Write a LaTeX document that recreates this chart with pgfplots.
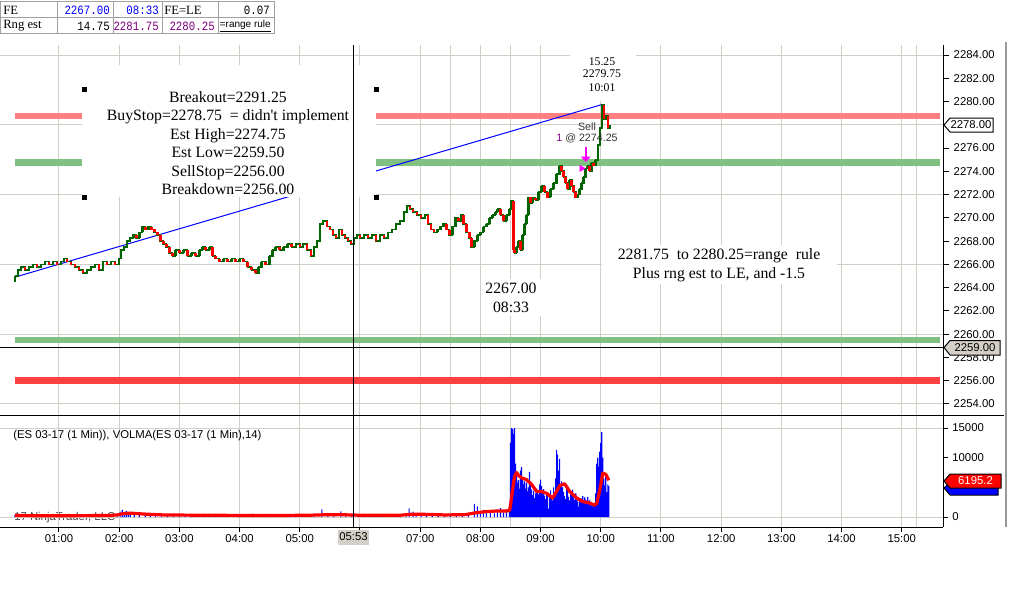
\documentclass[border=0pt]{standalone}
\usepackage{fontspec}
\setmainfont{Liberation Sans}
\newfontfamily\tnr{Liberation Serif}
\newfontfamily\mono[FakeStretch=0.85]{Liberation Mono}
\usepackage{pgfplots}
\usepackage{pgfplotstable}
\pgfplotsset{compat=1.18}
\usetikzlibrary{arrows.meta}

\definecolor{cgreen}{RGB}{0,100,0}
\definecolor{cred}{RGB}{255,0,0}
\definecolor{gridc}{RGB}{210,206,200}
\definecolor{bandpink}{RGB}{255,128,128}
\definecolor{bandred}{RGB}{255,64,64}
\definecolor{bandgreen}{RGB}{128,192,128}
\definecolor{taggray}{RGB}{212,208,200}
\definecolor{purp}{RGB}{128,0,128}
\definecolor{tblue}{RGB}{0,0,255}
\definecolor{magen}{RGB}{255,0,255}
\definecolor{tline}{RGB}{160,160,160}
\newcommand{\lbl}{\fontsize{8.5}{10}\selectfont}

% 1-minute ES price path (time in minutes after midnight, open, close)
\pgfplotstableread{
t o c
16 2264.50 2265.00
19 2265.00 2265.50
22 2265.50 2265.75
26 2265.75 2265.50
30 2265.50 2265.75
34 2265.75 2266.00
38 2266.00 2265.75
42 2265.75 2266.00
46 2266.00 2266.25
50 2266.25 2266.00
54 2266.00 2266.25
58 2266.25 2266.00
62 2266.00 2266.25
65 2266.25 2266.50
68 2266.50 2266.25
72 2266.25 2266.00
76 2266.00 2265.75
80 2265.75 2265.50
84 2265.50 2265.25
88 2265.25 2265.50
92 2265.50 2265.75
96 2265.75 2266.00
100 2266.00 2265.50
104 2265.50 2266.25
108 2266.25 2266.00
112 2266.00 2266.25
116 2266.25 2266.00
120 2266.00 2266.50
122 2266.50 2267.25
125 2267.25 2267.50
128 2267.50 2268.00
131 2268.00 2268.25
134 2268.25 2268.50
137 2268.50 2268.25
140 2268.25 2268.75
143 2268.75 2269.25
146 2269.25 2269.00
149 2269.00 2269.25
152 2269.25 2269.00
155 2269.00 2268.75
158 2268.75 2268.50
161 2268.50 2268.00
164 2268.00 2267.75
167 2267.75 2267.50
170 2267.50 2267.00
173 2267.00 2266.75
176 2266.75 2267.25
180 2267.25 2267.00
184 2267.00 2267.25
188 2267.25 2266.75
192 2266.75 2267.00
196 2267.00 2266.75
200 2266.75 2267.25
203 2267.25 2267.50
206 2267.50 2267.25
210 2267.25 2267.50
213 2267.50 2266.75
216 2266.75 2266.50
220 2266.50 2266.25
224 2266.25 2266.50
228 2266.50 2266.25
232 2266.25 2266.50
236 2266.50 2266.25
240 2266.25 2266.50
244 2266.50 2266.25
248 2266.25 2265.75
252 2265.75 2265.50
256 2265.50 2265.25
259 2265.25 2265.75
262 2265.75 2266.25
266 2266.25 2266.00
270 2266.00 2266.75
273 2266.75 2267.25
276 2267.25 2267.50
280 2267.50 2267.25
284 2267.25 2267.50
288 2267.50 2267.75
292 2267.75 2267.50
296 2267.50 2267.75
300 2267.75 2267.50
303 2267.50 2267.75
307 2267.75 2267.25
311 2267.25 2266.75
314 2266.75 2267.50
317 2267.50 2268.00
320 2268.00 2269.50
323 2269.50 2269.75
327 2269.75 2269.25
330 2269.25 2269.00
333 2269.00 2268.50
336 2268.50 2268.25
339 2268.25 2269.00
342 2269.00 2268.50
345 2268.50 2268.25
348 2268.25 2268.00
351 2268.00 2267.75
354 2267.75 2268.25
357 2268.25 2268.50
360 2268.50 2268.25
364 2268.25 2268.50
368 2268.50 2268.25
372 2268.25 2268.50
376 2268.50 2268.00
380 2268.00 2268.50
384 2268.50 2268.25
388 2268.25 2268.75
392 2268.75 2269.00
396 2269.00 2269.50
400 2269.50 2269.75
404 2269.75 2270.50
407 2270.50 2271.00
410 2271.00 2270.75
413 2270.75 2270.50
417 2270.50 2270.25
421 2270.25 2270.00
425 2270.00 2270.25
428 2270.25 2269.50
431 2269.50 2269.00
434 2269.00 2268.75
437 2268.75 2269.00
440 2269.00 2269.25
443 2269.25 2269.50
446 2269.50 2269.00
449 2269.00 2268.50
452 2268.50 2269.25
455 2269.25 2270.00
458 2270.00 2269.75
461 2269.75 2270.25
463 2270.25 2269.50
466 2269.50 2268.75
469 2268.75 2268.25
471 2268.25 2267.50
474 2267.50 2268.00
477 2268.00 2268.50
480 2268.50 2268.75
483 2268.75 2269.25
486 2269.25 2269.50
489 2269.50 2270.00
492 2270.00 2270.25
495 2270.25 2270.50
497 2270.50 2270.75
500 2270.75 2270.25
503 2270.25 2269.75
506 2269.75 2270.25
509 2270.25 2270.75
511 2270.75 2271.50
513 2271.50 2267.25
514 2267.25 2267.00
516 2267.00 2267.50
518 2267.50 2268.00
520 2268.00 2267.25
522 2267.25 2268.50
524 2268.50 2269.50
526 2269.50 2270.25
528 2270.25 2271.75
530 2271.75 2271.25
532 2271.25 2271.75
535 2271.75 2271.50
538 2271.50 2272.25
541 2272.25 2272.75
544 2272.75 2272.25
547 2272.25 2271.75
550 2271.75 2272.50
553 2272.50 2273.00
556 2273.00 2273.75
559 2273.75 2274.50
561 2274.50 2274.00
563 2274.00 2273.50
565 2273.50 2273.00
567 2273.00 2272.50
569 2272.50 2273.25
571 2273.25 2272.75
573 2272.75 2272.25
575 2272.25 2271.75
577 2271.75 2272.00
579 2272.00 2272.50
581 2272.50 2273.00
583 2273.00 2273.50
585 2273.50 2274.25
587 2274.25 2274.50
589 2274.50 2274.00
591 2274.00 2274.75
593 2274.75 2274.50
595 2274.50 2275.00
597 2275.00 2276.25
599 2276.25 2277.75
601 2277.75 2279.75
603 2279.75 2278.50
605 2278.50 2278.75
607 2278.75 2277.75
609 2277.75 2278.00
}\price

% volume per bar
\pgfplotstableread{
t v
16 300
22 150
28 200
34 250
40 150
46 200
52 300
58 150
64 250
70 200
76 300
82 200
88 250
94 150
100 300
106 200
112 250
118 400
121 900
123 1200
125 700
127 1000
129 600
131 800
135 400
140 300
146 500
151 700
156 300
162 250
168 350
174 200
180 250
186 300
192 200
198 250
205 450
210 200
216 300
222 150
228 250
234 200
240 300
246 200
253 550
258 200
266 450
272 250
278 200
284 300
290 250
296 200
302 300
308 250
314 350
322 1300
328 300
334 400
341 950
346 300
352 200
358 250
364 300
370 200
376 250
382 300
388 200
394 250
400 350
406 400
409 1450
413 900
416 400
421 600
426 300
432 350
438 250
444 300
450 350
456 300
462 400
468 500
474 2200
477 1800
480 800
483 1200
486 700
490 1000
494 600
497 1300
500 1500
503 800
506 1200
509 1500
510 12500
511 15000
512 14800
513 14000
514 15000
515 9000
516 7000
517 5800
518 6200
519 4800
520 7800
521 8400
522 6500
523 5500
524 6000
525 4800
526 5800
527 4300
528 5000
529 7600
530 6000
531 4600
532 3700
533 4400
534 3200
535 4000
536 4800
537 4300
538 3800
539 5500
540 6300
541 5200
542 4200
543 4700
544 3600
545 3000
546 4200
547 3800
548 1400
549 3600
550 4500
551 3300
552 2800
553 5000
554 3800
555 6500
556 11300
557 10500
558 7800
559 9800
560 5500
561 6000
562 5000
563 4200
564 3500
565 3000
566 5400
567 4800
568 3400
569 2800
570 4400
571 3800
572 4600
573 3300
574 2900
575 4000
576 3000
577 2600
578 1700
579 2900
580 3200
581 2400
582 3500
583 2600
584 3300
585 2900
586 2500
587 3400
588 2200
589 2800
590 1900
591 2300
592 1800
593 2400
594 2100
595 4000
596 9000
597 10000
598 8500
599 11000
600 12500
601 14300
602 10000
603 6500
604 5300
605 7000
606 4200
607 5500
608 5200
}\vol

% VOLMA(14)
\pgfplotstableread{
t m
16 250
40 220
80 230
110 250
118 350
125 600
132 650
140 550
150 450
165 350
200 300
240 270
280 260
310 300
325 380
340 400
360 300
400 300
410 450
425 450
445 350
465 400
475 700
485 900
495 1000
505 1000
509 1100
510 1900
512 4500
514 6800
516 7500
518 7000
521 6600
526 6300
531 5500
536 4300
541 4300
546 4000
552 3200
556 4300
559 5300
564 5600
569 4300
576 3200
582 2600
588 2400
594 2000
596 2300
599 4500
602 7400
605 7200
608 6195
}\volma

\begin{document}
\begin{tikzpicture}
\path[use as bounding box] (0,0) rectangle (765pt,-450pt);
\begin{scope}[x=0.75pt,y=-0.75pt]
\node[anchor=west, text=black!75, font=\lbl, inner sep=0] at (14,518) {17 NinjaTrader, LLC};
\end{scope}

% ---------------- price panel ----------------
\begin{axis}[
  at={(0pt,-33.75pt)}, anchor=north west,
  width=707.25pt, height=277.5pt, scale only axis,
  xmin=1.2, xmax=941.1, ymin=2253.05, ymax=2284.86,
  axis line style={draw=none},
  xtick={60,120,180,240,300,360,420,480,540,600,660,720,780,840,900},
  xticklabels={}, major x tick style={draw=none},
  extra x ticks={450,510,915}, extra x tick labels={},
  extra x tick style={grid=major, major tick length=0pt},
  xmajorgrids,
  ytick={2254,2256,2258,2260,2262,2264,2266,2268,2270,2272,2274,2276,2280,2282,2284},
  extra y ticks={2254,2260,2266,2272,2278,2284}, extra y tick labels={},
  extra y tick style={grid=major, major tick length=0pt},
  grid style={gridc, line width=0.75pt},
  ytick pos=right, yticklabel pos=right, tick align=outside,
  major tick length=4.5pt, major tick style={black, line width=0.75pt},
  /pgf/number format/assume math mode=true,
  y tick label style={font=\lbl, /pgf/number format/.cd, fixed, fixed zerofill, precision=2, 1000 sep={}},
]
\addplot[bandpink, line width=5pt, line cap=butt, forget plot] coordinates {(16,2278.75) (938,2278.75)};
\addplot[bandgreen, line width=5pt, line cap=butt, forget plot] coordinates {(16,2274.75) (938,2274.75)};
\addplot[bandgreen, line width=5pt, line cap=butt, forget plot] coordinates {(16,2259.50) (938,2259.50)};
\addplot[bandred, line width=5.5pt, line cap=butt, forget plot] coordinates {(16,2256.00) (938,2256.00)};
\addplot[tblue, line width=0.75pt, forget plot] coordinates {(16,2264.9) (601.5,2279.75)};
\addplot[const plot, cgreen, line width=1.3pt, forget plot] table[x=t, y=c] {\price};
\addplot[draw=none, mark=none, forget plot,
  error bars/.cd, y dir=both, y explicit, error mark=none,
  error bar style={draw=cgreen, line width=1.9pt}]
  table[x=t, y expr={(\thisrow{o}+\thisrow{c})/2}, y error expr={max((\thisrow{c}-\thisrow{o})/2,0)}] {\price};
\addplot[draw=none, mark=none, forget plot,
  error bars/.cd, y dir=both, y explicit, error mark=none,
  error bar style={draw=cred, line width=1.9pt}]
  table[x=t, y expr={(\thisrow{o}+\thisrow{c})/2}, y error expr={max((\thisrow{o}-\thisrow{c})/2,0)}] {\price};
% sell execution marker
\addplot[magen, line width=1.6pt, -{Triangle[length=4pt,width=7pt]}, forget plot] coordinates {(585,2276.1) (585,2274.8)};
\addplot[only marks, mark=triangle*, mark size=2.6pt, mark options={rotate=-90, fill=magen, draw=magen}, forget plot] coordinates {(581,2274.25)};
\end{axis}

% ---------------- volume panel ----------------
\begin{axis}[
  at={(0pt,-311.25pt)}, anchor=north west,
  width=707.25pt, height=84pt, scale only axis,
  xmin=1.2, xmax=941.1, ymin=-1685, ymax=17191,
  axis line style={draw=none},
  xtick={60,120,180,240,300,360,420,480,540,600,660,720,780,840,900},
  xticklabels={01:00,02:00,03:00,04:00,05:00,{},07:00,08:00,09:00,10:00,11:00,12:00,13:00,14:00,15:00},
  extra x ticks={450,510,915}, extra x tick labels={},
  extra x tick style={grid=major, major tick length=0pt},
  xmajorgrids, xtick pos=left,
  x tick label style={font=\lbl, yshift=1.5pt},
  ytick={0,10000,15000},
  extra y ticks={0,15000}, extra y tick labels={},
  extra y tick style={grid=major, major tick length=0pt},
  grid style={gridc, line width=0.75pt},
  ytick pos=right, yticklabel pos=right, tick align=outside,
  major tick length=3.5pt, major tick style={black, line width=0.75pt},
  scaled y ticks=false,
  /pgf/number format/assume math mode=true,
  y tick label style={font=\lbl, /pgf/number format/.cd, fixed, 1000 sep={}},
]
\addplot[ybar, bar width=1.1, bar shift=0pt, fill=tblue, draw=none, forget plot] table[x=t, y=v] {\vol};
\addplot[cred, line width=2.4pt, line join=round, forget plot] table[x=t, y=m] {\volma};
\end{axis}

% ---------------- overlays in pixel coordinates ----------------
\begin{scope}[x=0.75pt,y=-0.75pt]
% white text boxes
\fill[white] (82,65) rectangle (376,197);
\fill[white] (570,45) rectangle (636,101);
\fill[white] (483,279) rectangle (548,316);
\fill[white] (602,245) rectangle (837,284);
% main text
\begin{scope}[every node/.style={anchor=base, inner sep=0, font=\tnr\fontsize{11.8}{13.8}\selectfont}]
\node at (228,102) {Breakout=2291.25};
\node at (228,120.5) {BuyStop=2278.75\ \ = didn't implement};
\node at (228,139) {Est High=2274.75};
\node at (228,157.5) {Est Low=2259.50};
\node at (228,176) {SellStop=2256.00};
\node at (228,194.5) {Breakdown=2256.00};
\node at (719,259.5) {2281.75\ \ to 2280.25=range\ \ rule};
\node at (719,278) {Plus rng est to LE, and -1.5};
\node at (511,293.5) {2267.00};
\node at (511,312.5) {08:33};
\end{scope}
\begin{scope}[every node/.style={anchor=base, inner sep=0, font=\tnr\fontsize{8.8}{10}\selectfont}]
\node at (602,65) {15.25};
\node at (602,77.5) {2279.75};
\node at (602,91) {10:01};
\end{scope}
\node[anchor=base, inner sep=0, font=\fontsize{8}{9}\selectfont, text=black!80] at (587,130) {Sell};
\node[anchor=base, inner sep=0, font=\fontsize{8}{9}\selectfont, text=black!80] at (587,141.5) {\textcolor{purp}{1} @ 2274.25};
% selection handles
\fill[black] (81.5,86.5) rectangle +(5,5);
\fill[black] (373.5,86.5) rectangle +(5,5);
\fill[black] (81.5,195) rectangle +(5,5);
\fill[black] (373.5,195) rectangle +(5,5);
% axes frame lines
\draw[black, line width=0.75pt] (943,45) -- (943,527);
\draw[black, line width=0.75pt] (0,415) -- (1004,415);
\draw[black, line width=0.75pt] (0,527) -- (943,527);
\draw[black!40, line width=2pt] (1006,42) -- (1006,527);
% cursor cross-hair
\draw[black, line width=0.75pt] (353,45) -- (353,527);
\draw[black, line width=0.75pt] (0,347) -- (943,347);
% price tags
\draw[line width=0.75pt, fill=white] (944,125) -- (950,118) -- (993,118) -- (993,132) -- (950,132) -- cycle;
\node[font=\lbl, inner sep=0] at (971,125) {2278.00};
\draw[line width=0.75pt, fill=taggray] (944,347.5) -- (950,340.5) -- (1000,340.5) -- (1000,355) -- (950,355) -- cycle;
\node[font=\lbl, inner sep=0] at (975,348) {2259.00};
% volume tags
\draw[line width=0.75pt, fill=tblue] (944,488) -- (950,482) -- (998,482) -- (998,495) -- (950,495) -- cycle;
\draw[line width=0.75pt, fill=cred] (944,481) -- (950,474) -- (1001,474) -- (1001,488) -- (950,488) -- cycle;
\node[font=\lbl, text=white, inner sep=0] at (975.5,481) {6195.2};
% cursor time label
\fill[taggray] (338,529.5) rectangle (369,545);
\node[font=\lbl, inner sep=0] at (353.5,537) {05:53};
% indicator label
\node[anchor=west, font=\lbl, inner sep=0] at (13,436) {(ES 03-17 (1 Min)), VOLMA(ES 03-17 (1 Min),14)};
% top data table
\draw[tline, line width=0.75pt] (0.5,1.5) rectangle (274,33.5);
\draw[tline, line width=0.75pt] (0.5,17.5) -- (274,17.5);
\foreach \xx in {57,113,162,218} \draw[tline, line width=0.75pt] (\xx,1.5) -- (\xx,33.5);
\begin{scope}[every node/.style={inner sep=0}]
\node[anchor=west, font=\tnr\fontsize{9.5}{11}\selectfont] at (3,10) {FE};
\node[anchor=west, font=\tnr\fontsize{9.5}{11}\selectfont] at (3,26) {Rng est};
\node[anchor=west, font=\tnr\fontsize{9.5}{11}\selectfont] at (164,10) {FE=LE};
\node[anchor=east, font=\mono\fontsize{9.5}{11}\selectfont, text=tblue] at (110,10) {2267.00};
\node[anchor=east, font=\mono\fontsize{9.5}{11}\selectfont, text=tblue] at (159,10) {08:33};
\node[anchor=east, font=\mono\fontsize{9.5}{11}\selectfont] at (270,10) {0.07};
\node[anchor=east, font=\mono\fontsize{9.5}{11}\selectfont] at (110,26) {14.75};
\node[anchor=east, font=\mono\fontsize{9.5}{11}\selectfont, text=purp] at (159,26) {2281.75};
\node[anchor=east, font=\mono\fontsize{9.5}{11}\selectfont, text=purp] at (215,26) {2280.25};
\node[anchor=east, font=\fontsize{7.5}{9}\selectfont] at (271,26) {\underline{=range rule}};
\end{scope}
\end{scope}
\end{tikzpicture}
\end{document}
